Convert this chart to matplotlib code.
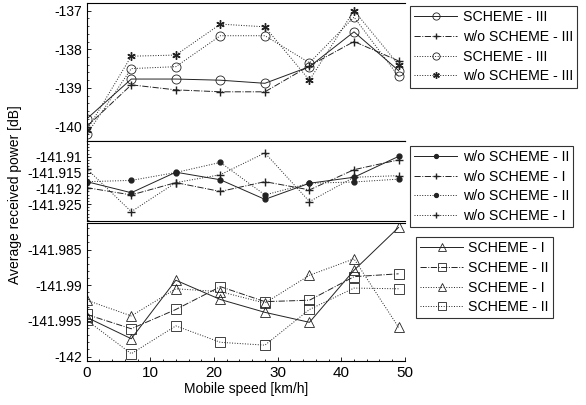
import matplotlib.pyplot as plt
from matplotlib.ticker import AutoMinorLocator

plt.rcParams['font.family'] = ['Liberation Sans', 'DejaVu Sans']
plt.rcParams['axes.unicode_minus'] = False

speed = [0, 7, 14, 21, 28, 35, 42, 49]

# top panel (SCHEME - III)
s3_solid = [-139.8, -138.77, -138.77, -138.8, -138.88, -138.45, -137.55, -138.55]
wo3_solid = [-140.0, -138.92, -139.05, -139.1, -139.1, -138.43, -137.8, -138.3]
s3_dot = [-140.2, -138.5, -138.45, -137.65, -137.65, -138.35, -137.17, -138.7]
wo3_dot = [-140.1, -138.18, -138.15, -137.35, -137.42, -138.8, -137.0, -138.4]

# middle panel (w/o SCHEME - I / II)
wo2_solid = [-141.9179, -141.9214, -141.9149, -141.9173, -141.9235, -141.9184, -141.9165, -141.9099]
wo1_solid = [-141.9198, -141.9221, -141.9182, -141.921, -141.9179, -141.9205, -141.9141, -141.9110]
wo2_dot = [-141.9179, -141.9175, -141.9150, -141.9118, -141.9221, -141.9184, -141.9180, -141.9171]
wo1_dot = [-141.9138, -141.9274, -141.9182, -141.9157, -141.9088, -141.9242, -141.9165, -141.9160]

# bottom panel (SCHEME - I / II)
s1_solid = [-141.9945, -141.9975, -141.9893, -141.992, -141.9938, -141.9952, -141.9879, -141.9819]
s2_solid = [-141.9941, -141.9961, -141.9934, -141.9902, -141.9923, -141.9921, -141.9888, -141.9884]
s1_dot = [-141.9921, -141.9943, -141.9905, -141.9909, -141.9925, -141.9886, -141.9863, -141.9959]
s2_dot = [-141.9949, -141.9996, -141.9957, -141.998, -141.9984, -141.9934, -141.9904, -141.9905]

fig = plt.figure(figsize=(5.86, 4.05), dpi=100)
ax1 = fig.add_axes([0.148, 0.652, 0.543, 0.341])
ax2 = fig.add_axes([0.148, 0.454, 0.543, 0.198])
ax3 = fig.add_axes([0.148, 0.109, 0.543, 0.340])

ast = (6, 2, 0)
lw = 0.7
c = '#222222'
mopen = dict(markerfacecolor='none', markeredgewidth=0.6)

ax1.plot(speed, s3_solid, '-', color=c, lw=lw, marker='o', ms=6.5, **mopen, label='SCHEME - III')
ax1.plot(speed, wo3_solid, '-.', color=c, lw=lw, marker='+', ms=6, label='w/o SCHEME - III')
ax1.plot(speed, s3_dot, ':', color=c, lw=lw, marker='o', ms=6.5, **mopen, label='SCHEME - III')
ax1.plot(speed, wo3_dot, ':', color=c, lw=lw, marker=ast, ms=6, label='w/o SCHEME - III')
ax1.set_ylim(-140.37, -136.8)
ax1.set_yticks([-140, -139, -138, -137])

ax2.plot(speed, wo2_solid, '-', color=c, lw=lw, marker='o', ms=3.5, label='w/o SCHEME - II')
ax2.plot(speed, wo1_solid, '-.', color=c, lw=lw, marker='+', ms=6, label='w/o SCHEME - I')
ax2.plot(speed, wo2_dot, ':', color=c, lw=lw, marker='o', ms=3.5, label='w/o SCHEME - II')
ax2.plot(speed, wo1_dot, ':', color=c, lw=lw, marker='+', ms=6, label='w/o SCHEME - I')
ax2.set_ylim(-141.9304, -141.905)
ax2.set_yticks([-141.925, -141.92, -141.915, -141.91])
ax2.set_yticklabels(['-141.925', '-141.92', '-141.915', '-141.91'])

ax3.plot(speed, s1_solid, '-', color=c, lw=lw, marker='^', ms=6.5, **mopen, label='SCHEME - I')
ax3.plot(speed, s2_solid, '-.', color=c, lw=lw, marker='s', ms=6.5, **mopen, label='SCHEME - II')
ax3.plot(speed, s1_dot, ':', color=c, lw=lw, marker='^', ms=6.5, **mopen, label='SCHEME - I')
ax3.plot(speed, s2_dot, ':', color=c, lw=lw, marker='s', ms=6.5, **mopen, label='SCHEME - II')
ax3.set_ylim(-142.0006, -141.9813)
ax3.set_yticks([-142, -141.995, -141.99, -141.985])
ax3.set_yticklabels(['-142', '-141.995', '-141.99', '-141.985'])

for ax in (ax1, ax2, ax3):
    ax.set_xlim(0, 50)
    ax.spines['right'].set_visible(False)
    for s in ax.spines.values():
        s.set_linewidth(0.8)
    ax.yaxis.set_minor_locator(AutoMinorLocator(5))
    ax.tick_params(axis='y', direction='in', labelsize=10, length=3, width=0.6)
    ax.tick_params(axis='y', which='minor', direction='in', length=1.5, width=0.5)

for ax in (ax1, ax2):
    ax.set_xticks([])
ax3.set_xticks([0, 10, 20, 30, 40, 50])
ax3.xaxis.set_minor_locator(AutoMinorLocator(5))
ax3.tick_params(axis='x', direction='in', labelsize=11, length=3, width=0.6)
ax3.tick_params(axis='x', which='minor', direction='in', length=1.5)
ax3.set_xlabel('Mobile speed [km/h]', fontsize=10, labelpad=2)

fig.text(0.025, 0.52, 'Average received power [dB]', rotation=90, fontsize=10,
         ha='center', va='center')

leg_kw = dict(fontsize=10.2, frameon=True, fancybox=False, edgecolor='black',
              handlelength=3.0, borderpad=0.3, labelspacing=0.4, handletextpad=0.4,
              borderaxespad=0, markerscale=0.8)
l1 = ax1.legend(loc='upper left', bbox_to_anchor=(0.7, 0.985), bbox_transform=fig.transFigure, **leg_kw)
l2 = ax2.legend(loc='upper left', bbox_to_anchor=(0.7, 0.64), bbox_transform=fig.transFigure, **leg_kw)
l3 = ax3.legend(loc='upper left', bbox_to_anchor=(0.71, 0.415), bbox_transform=fig.transFigure, **leg_kw)
for l in (l1, l2, l3):
    l.get_frame().set_linewidth(0.8)

fig.savefig('out.png', dpi=100)
